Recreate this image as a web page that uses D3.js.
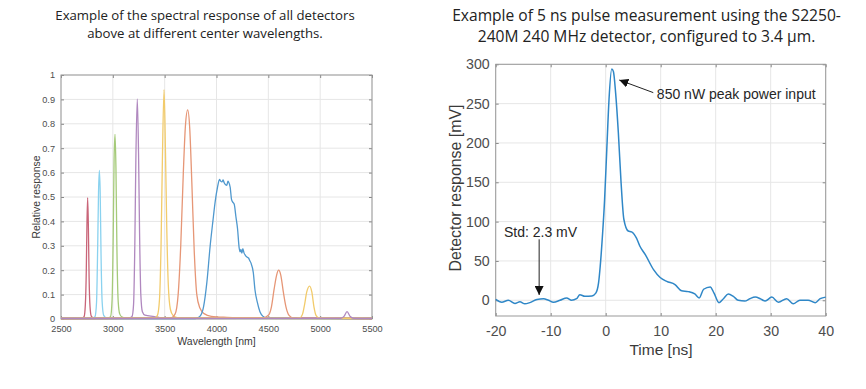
<!DOCTYPE html>
<html lang="en">
<head>
<meta charset="UTF-8">
<title>Detector spectral response and pulse</title>
<script src="https://d3js.org/d3.v7.min.js"></script>
<style>
  body { margin:0; background:#fff; }
  svg { display:block; }
  .title { font-family:"Open Sans", sans-serif; fill:#222; text-anchor:middle; }
  .ax text { font-family:"Liberation Sans", Arial, sans-serif; fill:#4d4d4d; }
  .ax line { stroke:#888; }
  .ax path { display:none; }
  .grid line { stroke:#e6e6e6; }
  .lbl { font-family:"Liberation Sans", Arial, sans-serif; fill:#3a3a3a; text-anchor:middle; }
  .note { font-family:"Liberation Sans", Arial, sans-serif; fill:#262626; font-size:14px; }
</style>
</head>
<body>
<div id="chart"></div>
<script>
// ---- spectral response: one array of [wavelength nm, relative response] per detector
var det2760 = [[2500,0.003],[2700,0.003],[2723,0.01],[2735,0.06],[2744,0.2],[2750,0.38],[2757,0.497],[2764,0.38],[2771,0.17],[2780,0.05],[2792,0.012],[2820,0.003],[5500,0.003]];
var det2870 = [[2500,0.002],[2800,0.003],[2828,0.01],[2843,0.07],[2854,0.3],[2862,0.52],[2870,0.609],[2878,0.52],[2886,0.27],[2897,0.07],[2912,0.015],[2940,0.004],[5500,0.002]];
var det3020 = [[2500,0.002],[2950,0.003],[2978,0.01],[2993,0.08],[3004,0.35],[3012,0.65],[3021,0.757],[3030,0.62],[3039,0.3],[3052,0.07],[3067,0.02],[3090,0.008],[3130,0.004],[5500,0.002]];
var det3240 = [[2500,0.002],[3150,0.003],[3185,0.01],[3200,0.06],[3212,0.3],[3222,0.65],[3236,0.902],[3248,0.68],[3258,0.35],[3270,0.1],[3285,0.03],[3310,0.016],[3400,0.01],[3450,0.006],[3550,0.003],[5500,0.002]];
var det3500 = [[2500,0.002],[3400,0.003],[3430,0.015],[3450,0.08],[3465,0.3],[3478,0.65],[3494,0.94],[3508,0.68],[3520,0.38],[3535,0.14],[3555,0.04],[3580,0.015],[3620,0.006],[3700,0.003],[5500,0.002]];
var det3730 = [[2500,0.002],[3550,0.003],[3600,0.02],[3630,0.1],[3655,0.3],[3680,0.6],[3700,0.79],[3722,0.857],[3742,0.78],[3762,0.56],[3785,0.28],[3810,0.1],[3840,0.045],[3880,0.022],[3950,0.011],[4100,0.007],[4300,0.005],[4500,0.003],[5500,0.002]];
var det4100 = [[2500,0.002],[3780,0.002],[3810,0.004],[3842,0.012],[3875,0.05],[3907,0.15],[3939,0.3],[3965,0.4],[3987,0.48],[4010,0.54],[4029,0.572],[4040,0.565],[4052,0.562],[4064,0.57],[4074,0.558],[4088,0.55],[4100,0.548],[4110,0.565],[4116,0.562],[4132,0.54],[4145,0.49],[4155,0.48],[4171,0.47],[4187,0.42],[4203,0.37],[4219,0.29],[4228,0.275],[4235,0.285],[4245,0.27],[4254,0.288],[4266,0.27],[4277,0.262],[4290,0.255],[4309,0.25],[4320,0.24],[4332,0.23],[4355,0.19],[4371,0.12],[4393,0.07],[4419,0.03],[4451,0.01],[4486,0.003],[5500,0.002]];
var det4600 = [[2500,0.002],[4450,0.005],[4500,0.015],[4530,0.05],[4555,0.12],[4580,0.18],[4599,0.2],[4620,0.18],[4645,0.11],[4670,0.05],[4700,0.015],[4740,0.004],[5500,0.002]];
var det4900 = [[2500,0.002],[4800,0.004],[4830,0.02],[4850,0.06],[4870,0.11],[4898,0.135],[4920,0.11],[4940,0.05],[4960,0.015],[4990,0.004],[5500,0.002]];
var det5260 = [[2500,0.002],[5200,0.003],[5230,0.011],[5259,0.03],[5290,0.01],[5320,0.003],[5500,0.002]];

var detectors = [det2760, det2870, det3020, det3240, det3500, det3730, det4100, det4600, det4900, det5260];
var detColors = ["#c96579","#8ad2ef","#a5ca79","#b088bf","#f2cb6b","#e69676","#4f98ce","#e69676","#f2cb6b","#b088bf"];

var specXTicks = [2500,3000,3500,4000,4500,5000,5500];
var specYTicks = [0,0.1,0.2,0.3,0.4,0.5,0.6,0.7,0.8,0.9,1];

// ---- pulse measurement: time [ns] and detector response [mV]
var pulseTime = [-20,-18.9,-17.7,-16.5,-15.6,-14.7,-13.8,-12.5,-11.3,-10.4,-9.5,-8.3,-7.1,-6.2,-5.3,-4.7,-3.8,-2.5,-1.8,-1.3,-1.0,-0.6,-0.2,0.2,0.6,1.1,1.4,1.8,2.3,2.8,3.3,4.1,4.7,5.6,6.2,7.2,8.7,9.9,11.1,12.6,13.8,15.0,16.2,17.0,17.8,19.0,19.7,20.6,21.4,22.3,23.2,24.1,25.3,26.2,27.2,28.1,29.0,30.2,31.4,32.9,34.1,35.3,36.8,38.1,39.0,40];
var pulseMv  = [1,-2.5,0,-4,-2,-4.5,-3,1,2,0,-2.5,0,3,0,2,7,5,5.5,9,22,43,81,128,192,255,294,291,264,213,149,103,88,87,79,69,58,39,29,24,20,12,11,8,3,14,17,9,-3,2,8,5,0,-1,2,4,2,-1,4,-2.5,2,-4.5,0,0,-3,2,4];

var pulseXTicks = [-20,-10,0,10,20,30,40];
var pulseYTicks = [0,50,100,150,200,250,300];

var svg = d3.select("#chart").append("svg").attr("width",866).attr("height",389);

// titles
var titles = [
  {x:205, y:19.5, size:13.2, t:"Example of the spectral response of all detectors"},
  {x:205, y:37.5, size:13.2, t:"above at different center wavelengths."},
  {x:646.5, y:21, size:15.6, t:"Example of 5 ns pulse measurement using the S2250-"},
  {x:646.5, y:42, size:15.6, t:"240M 240 MHz detector, configured to 3.4 \u00b5m."}
];
svg.selectAll("text.title").data(titles).enter().append("text")
  .attr("class","title").attr("x",function(d){return d.x;}).attr("y",function(d){return d.y;})
  .style("font-size",function(d){return d.size+"px";}).text(function(d){return d.t;});

// plain labels with a hyphen minus like the original
var plain = function(d){ return String(d); };

// boxed axes, MATLAB style (inward ticks on all four sides)
function boxAxes(g, x, y, xt, yt, fs, padX, padY) {
  var x0 = x.range()[0], x1 = x.range()[1], y0 = y.range()[0], y1 = y.range()[1];
  g.append("g").attr("class","grid").selectAll("line").data(xt).enter().append("line")
    .attr("x1",x).attr("x2",x).attr("y1",y0).attr("y2",y1);
  g.append("g").attr("class","grid").selectAll("line").data(yt).enter().append("line")
    .attr("y1",y).attr("y2",y).attr("x1",x0).attr("x2",x1);

  g.append("g").attr("class","ax").attr("transform","translate(0,"+y0+")")
    .call(d3.axisBottom(x).tickValues(xt).tickFormat(plain).tickSizeInner(-3).tickSizeOuter(0).tickPadding(padX));
  g.append("g").attr("class","ax").attr("transform","translate("+x0+",0)")
    .call(d3.axisLeft(y).tickValues(yt).tickFormat(plain).tickSizeInner(-3).tickSizeOuter(0).tickPadding(padY));
  g.append("g").attr("class","ax").attr("transform","translate(0,"+y1+")")
    .call(d3.axisTop(x).tickValues(xt).tickFormat("").tickSizeInner(-3).tickSizeOuter(0));
  g.append("g").attr("class","ax").attr("transform","translate("+x1+",0)")
    .call(d3.axisRight(y).tickValues(yt).tickFormat("").tickSizeInner(-3).tickSizeOuter(0));
  g.selectAll(".ax text").style("font-size",fs+"px");

  g.append("rect").attr("x",x0).attr("y",y1).attr("width",x1-x0).attr("height",y0-y1)
    .attr("fill","none").attr("stroke","#999").attr("stroke-width",1);
}

// ---------- left: spectral response ----------
var sx = d3.scaleLinear().domain([2500,5500]).range([61,372]);
var sy = d3.scaleLinear().domain([0,1]).range([319,75]);
var gl = svg.append("g");
boxAxes(gl, sx, sy, specXTicks, specYTicks, 9.2, 6.5, 6);

var specLine = d3.line().x(function(d){return sx(d[0]);}).y(function(d){return sy(d[1]);}).curve(d3.curveMonotoneX);
gl.append("g").selectAll("path").data(detectors).enter().append("path")
  .attr("d",specLine).attr("fill","none")
  .attr("stroke",function(d,i){return detColors[i];})
  .attr("stroke-width",1.3).attr("stroke-linejoin","round");

gl.append("text").attr("class","lbl").attr("x",216.5).attr("y",345).style("font-size","10.5px").text("Wavelength [nm]");
gl.append("text").attr("class","lbl").attr("transform","translate(36.7,197) rotate(-90)").attr("dy","0.35em")
  .style("font-size","10.4px").text("Relative response");

// ---------- right: pulse ----------
var px = d3.scaleLinear().domain([-20,40]).range([495.7,825.7]);
var py = d3.scaleLinear().domain([-20,300]).range([316,64.3]);
var gr = svg.append("g");
boxAxes(gr, px, py, pulseXTicks, pulseYTicks, 14.2, 10, 6);

var pulse = pulseTime.map(function(t,i){return [t,pulseMv[i]];});
gr.append("path").datum(pulse)
  .attr("d", d3.line().x(function(d){return px(d[0]);}).y(function(d){return py(d[1]);}).curve(d3.curveMonotoneX))
  .attr("fill","none").attr("stroke","#2f87c7").attr("stroke-width",1.5);

gr.append("text").attr("class","lbl").attr("x",661).attr("y",355).style("font-size","15.5px").text("Time [ns]");
gr.append("text").attr("class","lbl").attr("transform","translate(455.3,188) rotate(-90)").attr("dy","0.35em")
  .style("font-size","15.9px").text("Detector response [mV]");

// annotations
svg.append("defs").append("marker").attr("id","ah").attr("viewBox","0 0 10 10").attr("refX",10).attr("refY",5)
  .attr("markerWidth",9).attr("markerHeight",9).attr("markerUnits","userSpaceOnUse").attr("orient","auto")
  .append("path").attr("d","M0,0 L10,5 L0,10 z").attr("fill","#111");

gr.append("line").attr("x1",px(8.65)).attr("y1",py(264)).attr("x2",px(2.47)).attr("y2",py(280))
  .attr("stroke","#222").attr("stroke-width",1).attr("marker-end","url(#ah)");
gr.append("text").attr("class","note").attr("x",px(9.3)).attr("y",py(262)).attr("dy","0.35em").text("850 nW peak power input");

gr.append("line").attr("x1",px(-12.1)).attr("y1",py(77.5)).attr("x2",px(-12.1)).attr("y2",py(6.7))
  .attr("stroke","#222").attr("stroke-width",1).attr("marker-end","url(#ah)");
gr.append("text").attr("class","note").attr("x",px(-18.5)).attr("y",py(87)).attr("dy","0.35em").text("Std: 2.3 mV");
</script>
</body>
</html>
